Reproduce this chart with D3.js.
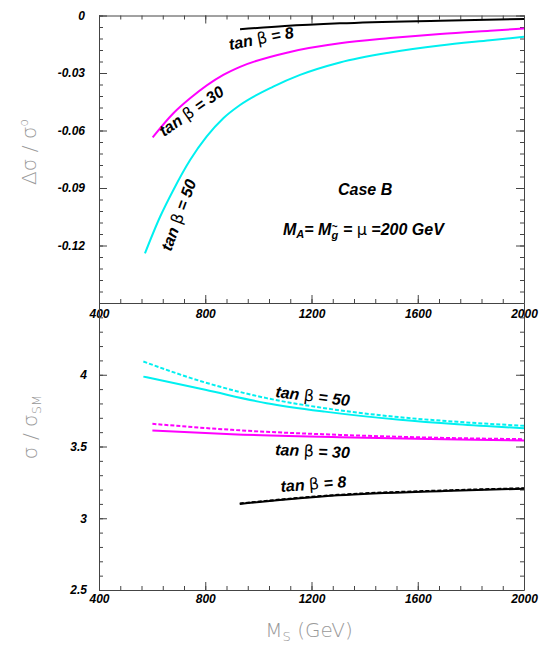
<!DOCTYPE html>
<html>
<head>
<meta charset="utf-8">
<title>Case B: cross section vs M_S</title>
<script src="https://d3js.org/d3.v7.min.js"></script>
<style>
  body { margin: 0; background: #fff; }
  .axis text { font-family: "Liberation Sans", Arial, sans-serif; font-weight: bold; font-style: italic; font-size: 12px; fill: #000; }
  .axis path, .axis line { stroke: #444; stroke-width: 1; }
  .lab { font-family: "Liberation Sans", Arial, sans-serif; font-weight: bold; font-style: italic; font-size: 16px; fill: #000; }
  .sym { font-family: "DejaVu Sans", sans-serif; font-weight: normal; font-style: normal; }
  .title { font-family: "DejaVu Sans", sans-serif; font-weight: 200; font-size: 20px; fill: #999; }
</style>
</head>
<body>
<script>
// sizes
var w = 545, h = 659;

// x ticks (M_S in GeV)
var xMajor = [400, 800, 1200, 1600, 2000];
var topYMajor = [0, -0.03, -0.06, -0.09, -0.12];
var botYMajor = [2.5, 3, 3.5, 4];

// upper panel: delta sigma / sigma0
var mTop8  = [931, 1100, 1307, 1684, 2000];
var dTop8  = [-0.0072, -0.0055, -0.0041, -0.0027, -0.0018];
var mTop30 = [602, 680, 743, 868, 931, 1119, 1307, 1496, 1684, 1872, 2000];
var dTop30 = [-0.0636, -0.0510, -0.0432, -0.0310, -0.0268, -0.0190, -0.0145, -0.0118, -0.0096, -0.0079, -0.0068];
var mTop50 = [573, 630, 680, 743, 805, 868, 931, 1056, 1157, 1307, 1496, 1684, 1872, 2000];
var dTop50 = [-0.1241, -0.1050, -0.0910, -0.0754, -0.0632, -0.0536, -0.0467, -0.0371, -0.0310, -0.0245, -0.0193, -0.0156, -0.0129, -0.0111];

// lower panel: sigma / sigma_SM  (solid and dashed)
var mBot50 = [567, 800, 1031, 1250, 1533, 1750, 2000];
var rBot50 = [3.987, 3.895, 3.802, 3.743, 3.686, 3.655, 3.628];
var rBot50d = [4.092, 3.946, 3.837, 3.767, 3.704, 3.672, 3.644];
var mBot30 = [601, 900, 1307, 1700, 2000];
var rBot30 = [3.611, 3.586, 3.565, 3.551, 3.541];
var rBot30d = [3.658, 3.616, 3.581, 3.560, 3.551];
var mBot8 = [930, 1300, 1700, 2000];
var rBot8 = [3.100, 3.160, 3.190, 3.206];
var rBot8d = [3.103, 3.163, 3.194, 3.209];

var cyan = "#00f0f0", magenta = "#ff00ff", black = "#000";

var svg = d3.select("body").append("svg")
  .attr("width", w)
  .attr("height", h);

var x = d3.scaleLinear().domain([400, 2000]).range([99, 524]);
var yTop = d3.scaleLinear().domain([-0.15, 0]).range([303, 15.5]);
var yBot = d3.scaleLinear().domain([2.5, 4.5]).range([590, 303]);

var xMinor = d3.range(400, 2001, 80);
var topMinor = d3.range(0, 26).map(function(i) { return -0.006 * i; });
var botMinor = d3.range(0, 21).map(function(i) { return 2.5 + 0.1 * i; });

function fmtTop(d) { return d === 0 ? "0" : d.toFixed(2); }

function addAxis(axis, tx, ty, keepDomain) {
  var g = svg.append("g").attr("class", "axis")
    .attr("transform", "translate(" + tx + "," + ty + ")")
    .call(axis);
  if (!keepDomain) g.select(".domain").remove();
  return g;
}

// panel frames
function panel(y, yMajor, yMinor, fmt, yPad, bottomPx, topPx, xPad, drawTop) {
  // left
  addAxis(d3.axisLeft(y).tickValues(yMinor).tickSize(-4).tickFormat(""), 99, 0, false);
  addAxis(d3.axisLeft(y).tickValues(yMajor).tickSize(-8).tickSizeOuter(0).tickPadding(yPad).tickFormat(fmt), 99, 0, true);
  // right
  addAxis(d3.axisRight(y).tickValues(yMinor).tickSize(-4).tickFormat(""), 524, 0, false);
  addAxis(d3.axisRight(y).tickValues(yMajor).tickSize(-8).tickSizeOuter(0).tickFormat(""), 524, 0, true);
  // bottom
  addAxis(d3.axisBottom(x).tickValues(xMinor).tickSize(-4).tickFormat(""), 0, bottomPx, false);
  addAxis(d3.axisBottom(x).tickValues(xMajor).tickSize(-8).tickSizeOuter(0).tickPadding(xPad).tickFormat(d3.format("d")), 0, bottomPx, true);
  if (drawTop) {
    addAxis(d3.axisTop(x).tickValues(xMinor).tickSize(-4).tickFormat(""), 0, topPx, false);
    addAxis(d3.axisTop(x).tickValues(xMajor).tickSize(-8).tickSizeOuter(0).tickFormat(""), 0, topPx, true);
  }
}

panel(yTop, topYMajor, topMinor, fmtTop, 14, 303, 15.5, 6, true);
panel(yBot, botYMajor, botMinor, function(d) { return String(d); }, 12, 590, 303, 4, false);

// curves
function curve(ms, vs, y, color, dashed) {
  var pts = ms.map(function(m, i) { return [m, vs[i]]; });
  var line = d3.line()
    .x(function(d) { return x(d[0]); })
    .y(function(d) { return y(d[1]); })
    .curve(d3.curveMonotoneX);
  svg.append("path")
    .datum(pts)
    .attr("d", line)
    .attr("fill", "none")
    .attr("stroke", color)
    .attr("stroke-width", 2)
    .attr("stroke-dasharray", dashed ? "4,2" : null);
}

curve(mTop8, dTop8, yTop, black, false);
curve(mTop30, dTop30, yTop, magenta, false);
curve(mTop50, dTop50, yTop, cyan, false);

curve(mBot50, rBot50d, yBot, cyan, true);
curve(mBot50, rBot50, yBot, cyan, false);
curve(mBot30, rBot30d, yBot, magenta, true);
curve(mBot30, rBot30, yBot, magenta, false);
curve(mBot8, rBot8d, yBot, black, true);
curve(mBot8, rBot8, yBot, black, false);

// tan beta labels
function tanLabel(px, py, angle, value, gap) {
  var t = svg.append("text").attr("class", "lab")
    .attr("transform", "translate(" + px + "," + py + ") rotate(" + angle + ")");
  t.append("tspan").text("tan ");
  t.append("tspan").attr("class", "sym").text("β");
  t.append("tspan").text(" =" + gap + value);
}

tanLabel(230, 50, -11, "8", " ");
tanLabel(164, 137, -35, "30", " ");
tanLabel(171, 252, -70, "50", " ");

tanLabel(275, 397, 7, "50", "  ");
tanLabel(275, 455, 2.5, "30", "  ");
tanLabel(281, 492, -4.3, "8", "  ");

// case text
svg.append("text").attr("class", "lab")
  .attr("x", 338).attr("y", 195)
  .text("Case B");

var m = svg.append("text").attr("class", "lab")
  .attr("x", 283).attr("y", 235);
m.append("tspan").text("M");
m.append("tspan").attr("font-size", "11px").attr("dy", 3).text("A");
m.append("tspan").attr("dy", -3).text("= M");
m.append("tspan").attr("font-size", "11px").attr("dy", 4).text("g");
m.append("tspan").attr("font-size", "10px").attr("font-style", "normal")
  .attr("dx", -6.5).attr("dy", -9).text("~");
m.append("tspan").attr("dx", 1).attr("dy", 5).text(" = ");
m.append("tspan").attr("class", "sym").text("μ");
m.append("tspan").text(" =200 GeV");

// axis titles
var t1 = svg.append("text").attr("class", "title")
  .attr("transform", "translate(36,152) rotate(-90)")
  .attr("text-anchor", "middle");
t1.append("tspan").text("Δσ / σ");
t1.append("tspan").attr("font-size", "12px").attr("dy", -8).text("o");

var t2 = svg.append("text").attr("class", "title")
  .attr("transform", "translate(37,427) rotate(-90)")
  .attr("text-anchor", "middle");
t2.append("tspan").text("σ / σ");
t2.append("tspan").attr("font-size", "13px").attr("dy", 4).text("SM");

var t3 = svg.append("text").attr("class", "title")
  .attr("x", 309).attr("y", 637)
  .attr("text-anchor", "middle");
t3.append("tspan").text("M");
t3.append("tspan").attr("font-size", "13px").attr("dy", 4).text("S");
t3.append("tspan").attr("dy", -4).text(" (GeV)");
</script>
</body>
</html>
